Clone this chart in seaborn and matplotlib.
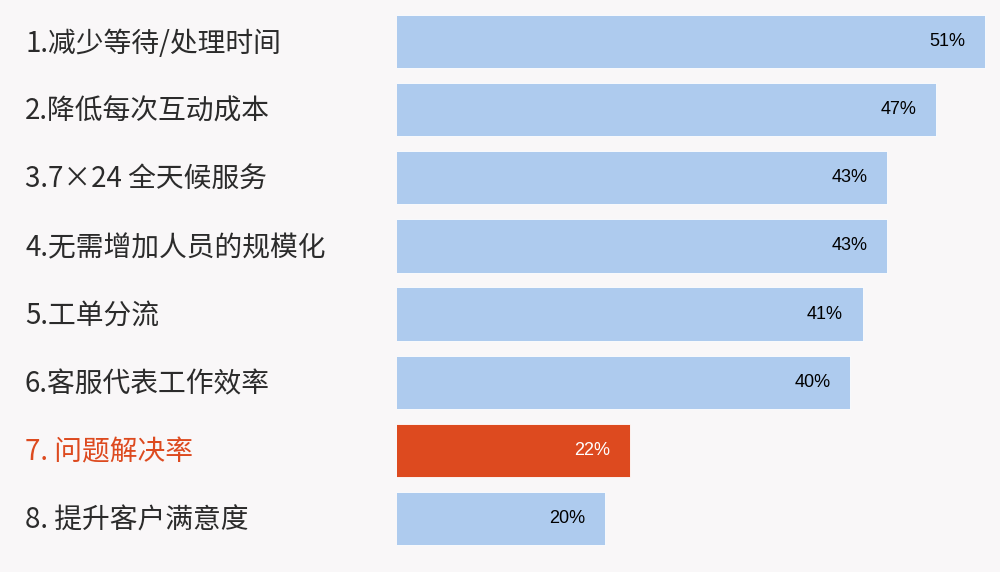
import matplotlib
matplotlib.use("Agg")
import matplotlib.pyplot as plt
import seaborn as sns
import pandas as pd

# data
labels = ["1.减少等待/处理时间", "2.降低每次互动成本", "3.7×24 全天候服务",
          "4.无需增加人员的规模化", "5.工单分流", "6.客服代表工作效率",
          "7. 问题解决率", "8. 提升客户满意度"]
values = [51, 47, 43, 43, 41, 40, 22, 20]
highlight = "7. 问题解决率"

blue = "#aecbee"
red = "#dd4a1f"
bg = "#f9f7f8"

sns.set_theme(style="white")
plt.rcParams["font.family"] = ["Noto Sans CJK SC", "DejaVu Sans"]

df = pd.DataFrame({"label": labels, "value": values})
colors = [red if l == highlight else blue for l in labels]

fig = plt.figure(figsize=(10, 5.72), dpi=100, facecolor=bg)
ax = fig.add_axes([0.397, 0.0345, 0.603, 0.952])
ax.set_facecolor(bg)

sns.barplot(data=df, x="value", y="label", hue="label", palette=colors,
            legend=False, width=0.78, saturation=1, ax=ax,
            edgecolor="white", linewidth=0.6)

# axis does not start at zero in the source chart
ax.set_xlim(3.0, 52.2)
ax.set_ylim(len(labels) - 0.5, -0.5)

for i, (lab, v) in enumerate(zip(labels, values)):
    txt_color = "white" if lab == highlight else "black"
    ax.text(v - 1.6, i, f"{v}%", ha="right", va="center", fontsize=13,
            color=txt_color, family=["Liberation Sans", "DejaVu Sans"])
    # category names sit at the left edge of the figure
    lab_color = red if lab == highlight else "#2b2b2b"
    ax.annotate(lab, xy=(0, i), xycoords=("figure fraction", "data"),
                xytext=(25, -2), textcoords="offset pixels", fontsize=20,
                color=lab_color, ha="left", va="center")

ax.set_xlabel("")
ax.set_ylabel("")
ax.set_xticks([])
ax.set_yticks([])
sns.despine(ax=ax, left=True, bottom=True)

fig.savefig("out.png", dpi=100, facecolor=bg)
